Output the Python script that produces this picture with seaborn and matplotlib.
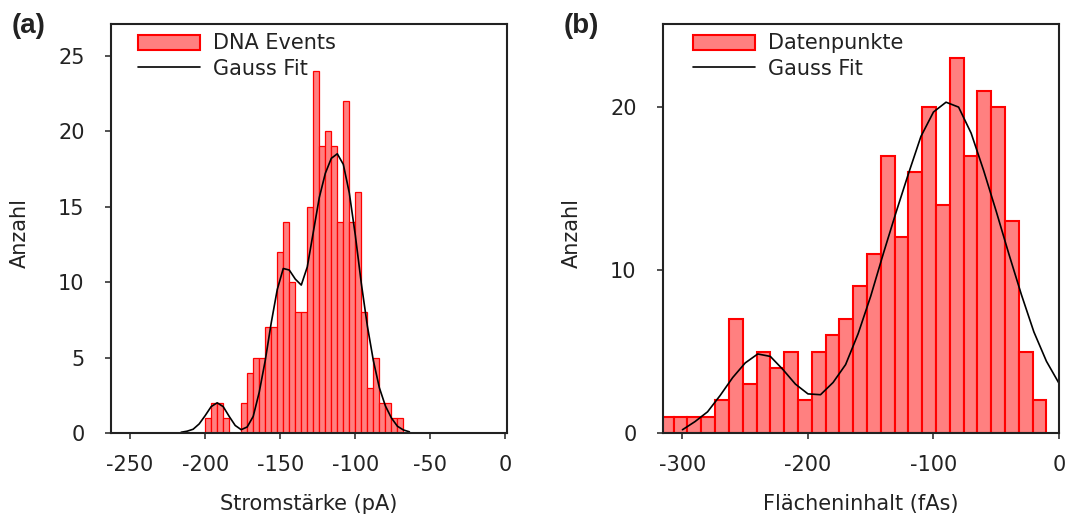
import numpy as np
import pandas as pd
import matplotlib
matplotlib.use("Agg")
import matplotlib.pyplot as plt
import seaborn as sns
from matplotlib.patches import Patch
from matplotlib.lines import Line2D

# ---------------- data ----------------
# Panel (a): current histogram, bins of 4 pA starting at -200 pA
a_bin_start = -200.0
a_bin_width = 4.0
a_counts = [1, 2, 2, 1, 0, 0, 2, 4, 5, 5, 7, 7, 12, 14, 10, 8, 8,
            15, 24, 19, 20, 19, 14, 22, 14, 16, 8, 3, 5, 2, 2, 1, 1]
# Panel (a): Gauss fit curve
a_fit_x = [-216, -212, -208, -204, -200, -196, -192, -188, -184, -180,
           -176, -172, -168, -164, -160, -156, -152, -148, -144, -140,
           -136, -132, -128, -124, -120, -116, -112, -108, -104, -100,
           -96, -92, -88, -84, -80, -76, -72, -68, -64]
a_fit_y = [0.05, 0.12, 0.25, 0.6, 1.15, 1.75, 2.0, 1.75, 1.1, 0.5,
           0.22, 0.4, 1.1, 2.7, 4.8, 7.3, 9.5, 10.9, 10.8, 10.2,
           9.8, 11.0, 13.3, 15.6, 17.2, 18.2, 18.5, 17.8, 15.9, 13.1,
           9.9, 7.1, 4.8, 3.0, 1.8, 1.0, 0.45, 0.2, 0.08]

# Panel (b): area histogram, bins of 11 fAs starting at -318 fAs
b_bin_start = -318.0
b_bin_width = 11.0
b_counts = [1, 1, 1, 1, 2, 7, 3, 5, 4, 5, 2, 5, 6, 7, 9, 11, 17, 12,
            16, 20, 14, 23, 17, 21, 20, 13, 5, 2]
# Panel (b): Gauss fit curve
b_fit_x = [-300, -290, -280, -270, -260, -250, -240, -230, -220, -210,
           -200, -190, -180, -170, -160, -150, -140, -130, -120, -110,
           -100, -90, -80, -70, -60, -50, -40, -30, -20, -10, 0]
b_fit_y = [0.2, 0.7, 1.3, 2.3, 3.4, 4.3, 4.85, 4.7, 3.9, 3.0,
           2.4, 2.35, 3.1, 4.2, 6.1, 8.4, 11.0, 13.5, 15.9, 18.2,
           19.7, 20.3, 20.0, 18.4, 16.1, 13.6, 11.0, 8.5, 6.2, 4.4, 3.05]

a_xticks = [-250, -200, -150, -100, -50, 0]
a_yticks = [0, 5, 10, 15, 20, 25]
b_xticks = [-300, -200, -100, 0]
b_yticks = [0, 10, 20]

a_xlabel = "Stromstärke (pA)"
b_xlabel = "Flächeninhalt (fAs)"
ylabel = "Anzahl"
a_legend = ["DNA Events", "Gauss Fit"]
b_legend = ["Datenpunkte", "Gauss Fit"]

# ---------------- styling ----------------
sns.set_theme(style="ticks")
plt.rcParams["font.family"] = ["DejaVu Sans"]
plt.rcParams["axes.unicode_minus"] = False
FS = 15
TXT = "#222222"
FACE = "#ff8080"
EDGE = "#ff0000"

W, H = 1071, 517
fig = plt.figure(figsize=(W / 100, H / 100), dpi=100)
axa = fig.add_axes([111 / W, (H - 433) / H, 396 / W, 409 / H])
axb = fig.add_axes([663 / W, (H - 433) / H, 396 / W, 409 / H])


def panel(ax, start, width, counts, fx, fy, edge_lw, xlim, ylim,
          xticks, yticks, xlabel, legend_labels, leg_x):
    counts = [float(c) for c in counts]
    edges = [start + width * i for i in range(len(counts) + 1)]
    centers = [(edges[i] + edges[i + 1]) / 2 for i in range(len(counts))]
    df = pd.DataFrame({"x": centers, "w": counts})
    sns.histplot(data=df, x="x", weights="w", bins=edges, ax=ax,
                 stat="count", color=FACE, edgecolor=EDGE,
                 linewidth=edge_lw, alpha=1)
    for p in ax.patches:
        p.set_facecolor(FACE)
        p.set_edgecolor(EDGE)
        p.set_linewidth(edge_lw)
    fit = pd.DataFrame({"x": fx, "y": fy})
    sns.lineplot(data=fit, x="x", y="y", ax=ax, color="black",
                 linewidth=1.2)
    ax.set_xlim(*xlim)
    ax.set_ylim(*ylim)
    ax.set_xticks(xticks)
    ax.set_yticks(yticks)
    ax.set_xlabel(xlabel, fontsize=FS, color=TXT)
    ax.set_ylabel(ylabel, fontsize=FS, color=TXT)
    ax.xaxis.set_label_coords(0.5, -0.148)
    ax.yaxis.set_label_coords(-0.206, 0.49)
    ax.tick_params(axis="both", direction="out", length=4, width=1.1,
                   color=TXT, labelcolor=TXT, labelsize=FS)
    ax.tick_params(axis="x", pad=12)
    ax.tick_params(axis="y", pad=15)
    for sp in ax.spines.values():
        sp.set_visible(True)
        sp.set_linewidth(1.5)
        sp.set_color(TXT)
    handles = [Patch(facecolor=FACE, edgecolor=EDGE, linewidth=1.5),
               Line2D([], [], color="black", linewidth=1.2)]
    leg = ax.legend(handles, legend_labels, loc="upper left",
                    bbox_to_anchor=(leg_x, 0.977), frameon=False,
                    fontsize=FS, handlelength=3.0, handleheight=0.72,
                    handletextpad=0.6, labelspacing=0.25, borderpad=0,
                    borderaxespad=0)
    for t in leg.get_texts():
        t.set_color(TXT)


panel(axa, a_bin_start, a_bin_width, a_counts, a_fit_x, a_fit_y, 0.9,
      (-262.7, 1.0), (0, 27.1), a_xticks, a_yticks, a_xlabel, a_legend,
      0.068)
panel(axb, b_bin_start, b_bin_width, b_counts, b_fit_x, b_fit_y, 1.5,
      (-315.5, 0), (0, 25.1), b_xticks, b_yticks, b_xlabel, b_legend,
      0.075)

fig.text(12 / W, 1 - 13 / H, "(a)", fontsize=20, fontweight="bold",
         family=["Liberation Sans", "DejaVu Sans"], color=TXT,
         ha="left", va="top")
fig.text(564 / W, 1 - 13 / H, "(b)", fontsize=20, fontweight="bold",
         family=["Liberation Sans", "DejaVu Sans"], color=TXT,
         ha="left", va="top")

fig.savefig("out.png", dpi=100)
